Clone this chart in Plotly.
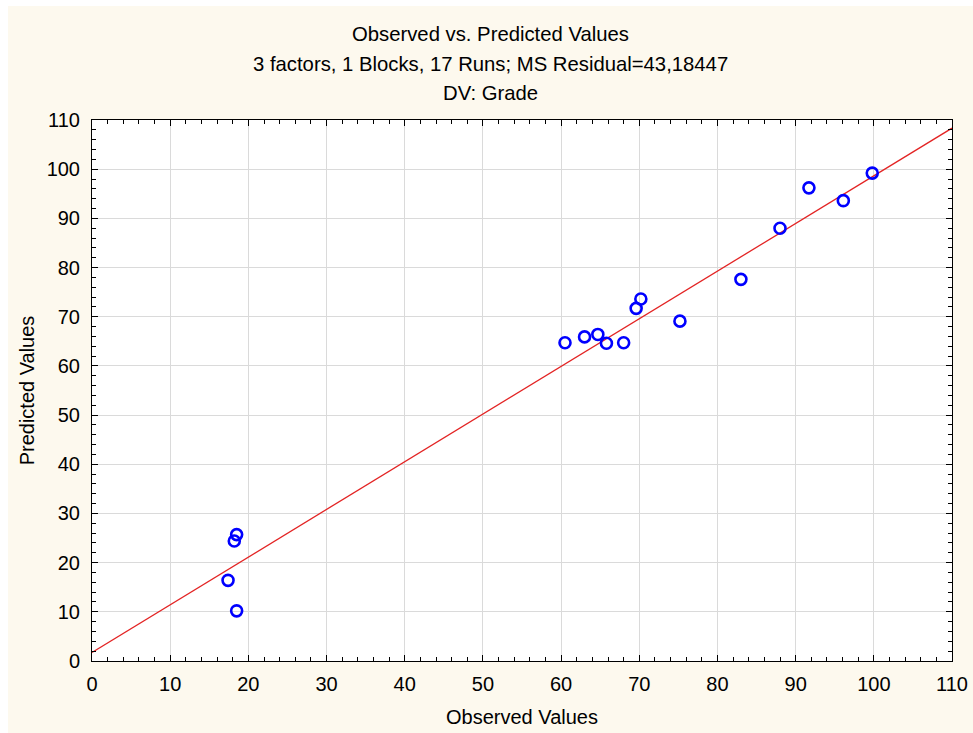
import plotly.graph_objects as go

# Observed vs. predicted grade for the 17 runs
observed = [18.5, 18.2, 17.4, 18.5, 60.5, 63.0, 64.7, 65.8, 68.0, 69.6, 70.2,
            75.2, 83.0, 88.0, 91.7, 96.1, 99.8]
predicted = [25.7, 24.4, 16.4, 10.2, 64.7, 65.9, 66.4, 64.6, 64.7, 71.7, 73.6,
             69.1, 77.6, 88.0, 96.2, 93.6, 99.2]

# Fitted line (predicted on observed)
fit_intercept = 1.75
fit_slope = 0.969

axis_range = [0, 110]
tick_values = list(range(0, 111, 10))

title_lines = [
    "Observed vs. Predicted Values",
    "3 factors, 1 Blocks, 17 Runs; MS Residual=43,18447",
    "DV: Grade",
]

FONT = "Arial, Liberation Sans, sans-serif"
CREAM = "#FDF9EE"

W, H = 973, 733
ML, MR, MT, MB = 92, 21, 120, 72
PW, PH = W - ML - MR, H - MT - MB


def px_to_paper_y(ypix):
    return (H - MB - ypix) / PH


def px_to_paper_x(xpix):
    return (xpix - ML) / PW


line_x = axis_range
line_y = [fit_intercept + fit_slope * v for v in line_x]

fig = go.Figure()
fig.add_trace(go.Scatter(
    x=line_x, y=line_y, mode="lines",
    line=dict(color="#E32424", width=1.3),
    hoverinfo="skip", showlegend=False,
))
fig.add_trace(go.Scatter(
    x=observed, y=predicted, mode="markers",
    marker=dict(symbol="circle-open", size=11, color="#0000FF",
                line=dict(color="#0000FF", width=2.6)),
    showlegend=False,
))

axis_common = dict(
    range=axis_range,
    tickvals=tick_values,
    ticks="inside",
    ticklen=6,
    tickwidth=1,
    tickcolor="black",
    minor=dict(dtick=2, ticks="inside", ticklen=4, tickwidth=1,
               tickcolor="black", showgrid=False),
    showline=True,
    linecolor="black",
    linewidth=1,
    mirror="allticks",
    showgrid=True,
    gridcolor="#DADADA",
    gridwidth=1,
    zeroline=False,
    automargin=False,
    tickfont=dict(family=FONT, size=20, color="black"),
)

fig.update_xaxes(
    **axis_common,
    ticklabelstandoff=5,
    title=dict(text="Observed Values", font=dict(family=FONT, size=20, color="black"),
               standoff=15),
)
fig.update_yaxes(
    **axis_common,
    ticklabelstandoff=7,
    title=dict(text="Predicted Values", font=dict(family=FONT, size=20, color="black"),
               standoff=6),
)

annotations = []
for text, ypix in zip(title_lines, [34, 64, 93]):
    annotations.append(dict(
        text=text, xref="paper", yref="paper",
        x=px_to_paper_x(W / 2 + 4), y=px_to_paper_y(ypix),
        xanchor="center", yanchor="middle", showarrow=False,
        font=dict(family=FONT, size=20.3, color="black"),
    ))

# thin white border strips along the top and left edges of the panel
shapes = [
    dict(type="rect", xref="paper", yref="paper", layer="above",
         x0=px_to_paper_x(-5), x1=px_to_paper_x(W + 5),
         y0=px_to_paper_y(6), y1=px_to_paper_y(-5),
         fillcolor="white", line=dict(width=0)),
    dict(type="rect", xref="paper", yref="paper", layer="above",
         x0=px_to_paper_x(-5), x1=px_to_paper_x(8),
         y0=px_to_paper_y(H + 5), y1=px_to_paper_y(-5),
         fillcolor="white", line=dict(width=0)),
]

fig.update_layout(
    width=W, height=H,
    margin=dict(l=ML, r=MR, t=MT, b=MB, pad=0),
    paper_bgcolor=CREAM,
    plot_bgcolor="white",
    font=dict(family=FONT, color="black"),
    annotations=annotations,
    shapes=shapes,
    showlegend=False,
)

fig.write_html("out.html")
